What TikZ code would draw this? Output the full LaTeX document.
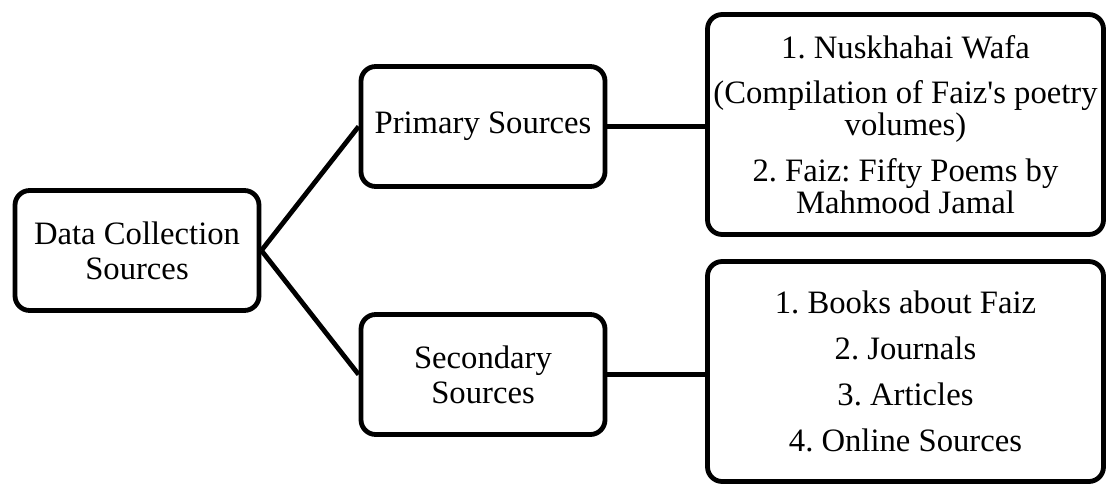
\documentclass[tikz,border=0pt]{standalone}
\usepackage{fontspec}
\setmainfont{Liberation Serif}
\usepackage{tikz}
\usetikzlibrary{positioning,calc}
\frenchspacing

\begin{document}
\begin{tikzpicture}[
  x=0.75pt, y=-0.75pt,
  box/.style={rectangle, rounded corners=11pt, draw=black, line width=3.6pt,
              minimum width=183pt, minimum height=90pt, align=center,
              font=\fontsize{24.5}{26}\selectfont, text=black, fill=white},
  listbox/.style={box, minimum width=297pt, minimum height=165pt,
              font=\fontsize{24.5}{24}\selectfont},
  link/.style={line width=3.6pt, color=black}
]
\useasboundingbox (0,0) rectangle (1109,485);

\node[box] (dcs) at (137,250.5) {Data Collection\\Sources};
\node[box] (prim) at (483,126.5) {Primary Sources};
\node[box] (sec) at (483,374.5) {Secondary\\Sources};
\node[listbox] (plist) at (905.5,124.5) {1. Nuskhahai Wafa\\[10pt]
  (Compilation of Faiz\textquotesingle s poetry\\volumes)\\[10pt]
  2. Faiz: Fifty Poems by\\Mahmood Jamal};
\node[listbox] (slist) at (905.5,371.5) {1. Books about Faiz\\[10.5pt]
  2. Journals\\[10.5pt]3. Articles\\[10.5pt]4. Online Sources};

%% branches
\draw[link] (dcs.east) -- (prim.west);
\draw[link] (dcs.east) -- (sec.west);
\draw[link] (prim.east) -- (prim.east -| plist.west);
\draw[link] (sec.east) -- (sec.east -| slist.west);

\end{tikzpicture}
\end{document}
